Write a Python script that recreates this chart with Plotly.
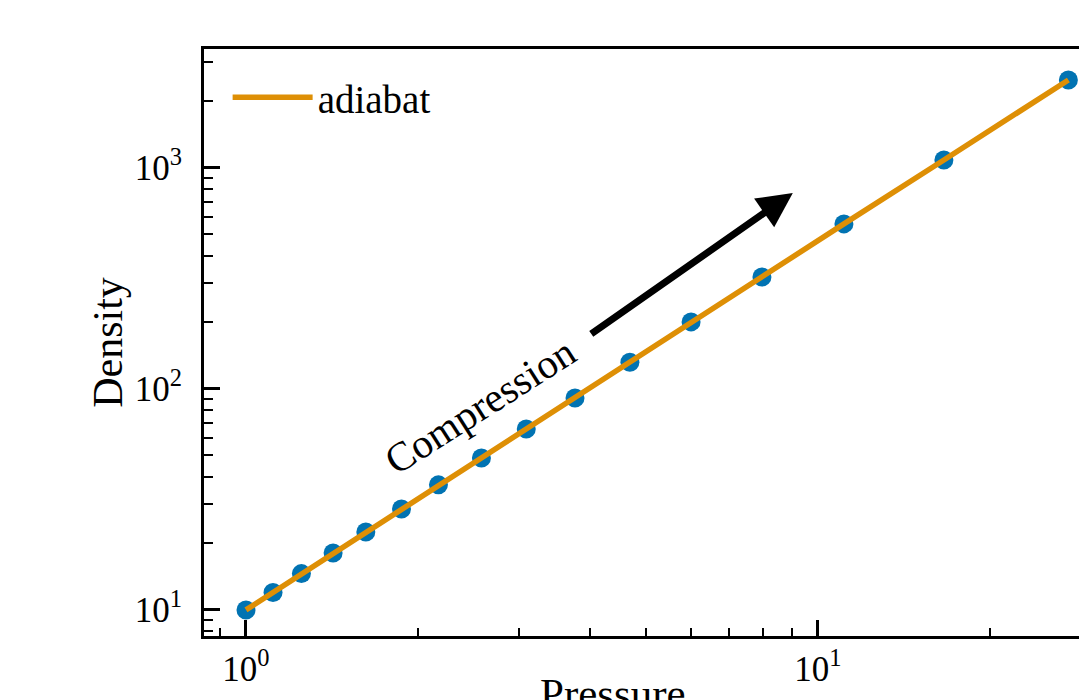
import plotly.graph_objects as go

# Data (log-log)
pressure = [1.0, 1.115, 1.25, 1.42, 1.62, 1.87, 2.17, 2.58, 3.09, 3.76, 4.69, 6.0, 7.98, 11.1, 16.6, 27.4]
density = [10.0, 12.0, 14.6, 18.1, 22.5, 28.6, 36.8, 48.7, 65.9, 91.0, 132.0, 201.0, 321.0, 558.0, 1086.0, 2500.0]

x_tickvals = [1, 10]
x_ticktext = ["10<sup>0</sup>", "10<sup>1</sup>"]
y_tickvals = [10, 100, 1000]
y_ticktext = ["10<sup>1</sup>", "10<sup>2</sup>", "10<sup>3</sup>"]
x_minor = [0.9, 2, 3, 4, 5, 6, 7, 8, 9, 20, 30, 40]
y_minor = [8, 9, 20, 30, 40, 50, 60, 70, 80, 90, 200, 300, 400, 500, 600, 700, 800, 900, 2000, 3000]

BLUE = "#0173B2"
ORANGE = "#DE8F05"
FONT = "Liberation Serif"

fig = go.Figure()
fig.add_trace(go.Scatter(x=pressure, y=density, mode="markers",
                         marker=dict(color=BLUE, size=19, line=dict(width=0)),
                         showlegend=False))
fig.add_trace(go.Scatter(x=pressure, y=density, mode="lines",
                         line=dict(color=ORANGE, width=5.5), name="adiabat"))

axis_common = dict(type="log", showgrid=False, zeroline=False, showline=True,
                   linecolor="black", linewidth=3, ticks="inside", tickcolor="black",
                   tickwidth=2.5, ticklen=16,
                   tickfont=dict(family=FONT, size=35, color="black"))

fig.update_xaxes(**axis_common, range=[-0.0734, 1.4563], tickvals=x_tickvals,
                 ticktext=x_ticktext, mirror=True, ticklabelstandoff=0,
                 minor=dict(tickvals=x_minor, ticks="inside", ticklen=8,
                            tickwidth=2, tickcolor="black"))
fig.update_yaxes(**axis_common, range=[0.882, 3.538], tickvals=y_tickvals,
                 ticktext=y_ticktext, mirror=False, ticklabelstandoff=12,
                 minor=dict(tickvals=y_minor, ticks="inside", ticklen=9,
                            tickwidth=2, tickcolor="black"),
                 title=dict(text="Density", font=dict(family=FONT, size=42, color="black"),
                            standoff=0))

# x-axis label (cropped at bottom in the reference)
fig.add_annotation(text="Pressure", xref="paper", yref="paper",
                   x=(613 - 204) / 875, y=-(668 - 636) / 587,
                   xanchor="center", yanchor="top", showarrow=False,
                   font=dict(family=FONT, size=43, color="black"))

# Compression arrow
fig.add_annotation(x=0.956, y=2.887, ax=0.601, ay=2.244, xref="x", yref="y",
                   axref="x", ayref="y", text="", showarrow=True,
                   arrowhead=2, arrowsize=1.0, arrowwidth=7, arrowcolor="black")
fig.add_annotation(x=0.409, y=1.921, xref="x", yref="y", text="Compression",
                   showarrow=False, textangle=-32.5,
                   font=dict(family=FONT, size=41, color="black"))

fig.update_layout(
    width=1079, height=700,
    margin=dict(l=204, r=0, t=49, b=64, pad=0),
    paper_bgcolor="white", plot_bgcolor="white",
    legend=dict(x=0.027, y=0.972, xanchor="left", yanchor="top",
                bgcolor="rgba(0,0,0,0)", itemwidth=80,
                font=dict(family=FONT, size=39, color="black")),
)

fig.write_html("out.html")
